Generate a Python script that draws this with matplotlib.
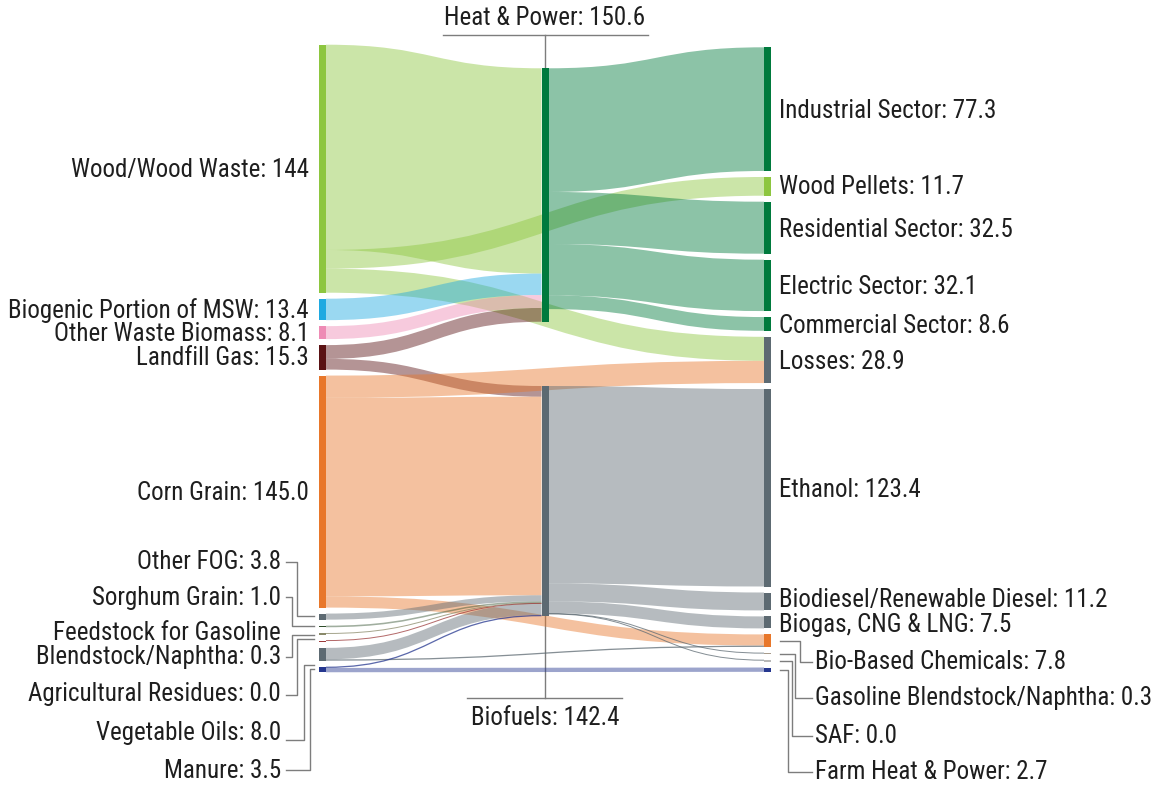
import matplotlib
matplotlib.use("Agg")
import matplotlib.pyplot as plt
from matplotlib.path import Path
from matplotlib.patches import PathPatch, Rectangle
from matplotlib import font_manager
from matplotlib.font_manager import FontProperties

# ---------------- data ----------------
node_names = [
    "Wood/Wood Waste", "Biogenic Portion of MSW", "Other Waste Biomass", "Landfill Gas",
    "Corn Grain", "Other FOG", "Sorghum Grain", "Feedstock for Gasoline\nBlendstock/Naphtha",
    "Agricultural Residues", "Vegetable Oils", "Manure",
    "Heat & Power", "Biofuels",
    "Industrial Sector", "Wood Pellets", "Residential Sector", "Electric Sector",
    "Commercial Sector", "Losses", "Ethanol", "Biodiesel/Renewable Diesel",
    "Biogas, CNG & LNG", "Bio-Based Chemicals", "Gasoline Blendstock/Naphtha", "SAF",
    "Farm Heat & Power",
]
node_totals = ["144", "13.4", "8.1", "15.3", "145.0", "3.8", "1.0", "0.3", "0.0", "8.0", "3.5",
               "150.6", "142.4",
               "77.3", "11.7", "32.5", "32.1", "8.6", "28.9", "123.4", "11.2", "7.5", "7.8",
               "0.3", "0.0", "2.7"]
node_column = [0] * 11 + [1] * 2 + [2] * 13
node_colors = [
    "#8dc63f", "#1fa9e1", "#ee8bb5", "#5a1214", "#e8772a", "#5d6a72", "#2e4d2a", "#8a8a6a",
    "#9c3a3a", "#5d6a72", "#25378f",
    "#007a3d", "#5d6a72",
    "#007a3d", "#8dc63f", "#007a3d", "#007a3d", "#007a3d", "#5d6a72", "#5d6a72", "#5d6a72",
    "#5d6a72", "#e8772a", "#a89c8c", "#b8b8b8", "#25378f",
]

link_source = [0, 0, 0, 1, 2, 3, 3, 4, 4, 4, 5, 6, 7, 8, 9, 9, 10, 10,
               11, 11, 11, 11, 12, 12, 12, 12, 12]
link_target = [11, 14, 18, 11, 11, 11, 12, 18, 12, 22, 12, 12, 12, 12, 12, 22, 12, 25,
               13, 15, 16, 17, 19, 20, 21, 23, 24]
link_value = [128.3, 11.7, 15.0, 13.4, 8.1, 8.6, 6.7, 13.9, 124.1, 7.0, 3.8, 1.0, 0.3, 0.0,
              7.2, 0.8, 0.8, 2.7,
              77.3, 32.5, 32.1, 8.6, 123.4, 11.2, 7.5, 0.3, 0.0]

# ---------------- layout constants ----------------
W, H = 1167, 786
K = 1.6            # px per unit
PAD = 6.0
NODE_W = 7.0
MIN_NODE = 1.3
col_x = [319.0, 541.5, 764.0]
col_top = {0: 44.7, 2: 47.3}
mid_top = {11: 68.3, 12: 386.0}
ALPHA = 0.45
TXT = "#1e1e1e"
LEAD = "#7d7d7d"


def pick_font():
    prefs = ["Liberation Sans Narrow", "Roboto Condensed", "Open Sans Condensed",
             "Noto Sans Condensed", "DejaVu Sans Condensed", "DejaVu Sans"]
    cands = []
    for f in font_manager.fontManager.ttflist:
        fn = f.fname.lower()
        cond = ("condensed" in str(f.stretch).lower() or "narrow" in f.name.lower()
                or "condensed" in fn or "narrow" in fn)
        if not cond:
            continue
        if f.style != "normal":
            continue
        if str(f.weight) not in ("400", "normal", "regular", "book"):
            continue
        if ("bold" in fn or "italic" in fn or "oblique" in fn or "light" in fn
                or "mono" in fn or ("serif" in fn and "sans" not in fn)):
            continue
        cands.append(f)

    def rank(f):
        key = f.name + (" Condensed" if "condensed" in f.fname.lower() and "Condensed" not in f.name else "")
        key = key + (" Narrow" if "narrow" in f.fname.lower() and "Narrow" not in key else "")
        for j, p in enumerate(prefs):
            if p.lower() in key.lower():
                return j
        return len(prefs)
    if cands:
        cands.sort(key=rank)
        return FontProperties(fname=cands[0].fname)
    return FontProperties(family="DejaVu Sans")


FP = pick_font()

n = len(node_names)
inflow = [0.0] * n
outflow = [0.0] * n
for s, t, v in zip(link_source, link_target, link_value):
    outflow[s] += v
    inflow[t] += v
node_h = [max(K * max(inflow[i], outflow[i]), MIN_NODE) for i in range(n)]

node_y = [0.0] * n
for c in (0, 2):
    y = col_top[c]
    for i in range(n):
        if node_column[i] == c:
            node_y[i] = y
            y += node_h[i] + PAD
for i, y in mid_top.items():
    node_y[i] = y

fig = plt.figure(figsize=(W / 100, H / 100), dpi=100)
ax = fig.add_axes([0, 0, 1, 1])
ax.set_xlim(0, W)
ax.set_ylim(H, 0)
ax.axis("off")

# calibrate font size so that text widths match the reference
renderer = fig.canvas.get_renderer()
probe = ax.text(0, 0, "Wood/Wood Waste: 144", fontproperties=FP.copy())
probe.set_fontsize(20)
wpx = probe.get_window_extent(renderer).width
probe.remove()
FS = min(20 * 238.0 / wpx, 19.5)
fp = FP.copy()
fp.set_size(FS)

# link offsets
links = list(range(len(link_value)))
src_off = {}
tgt_off = {}
for i in range(n):
    outs = sorted([l for l in links if link_source[l] == i], key=lambda l: node_y[link_target[l]])
    y = node_y[i]
    for l in outs:
        src_off[l] = y
        y += link_value[l] * K
    ins = sorted([l for l in links if link_target[l] == i], key=lambda l: node_y[link_source[l]])
    y = node_y[i]
    for l in ins:
        tgt_off[l] = y
        y += link_value[l] * K

for l in links:
    s, t, v = link_source[l], link_target[l], link_value[l]
    x0 = col_x[node_column[s]] + NODE_W
    x1 = col_x[node_column[t]]
    xm = (x0 + x1) / 2
    y0, y1 = src_off[l], tgt_off[l]
    w = v * K
    col = node_colors[s]
    if w < 1.6:
        c0, c1 = y0 + w / 2, y1 + w / 2
        p = Path([(x0, c0), (xm, c0), (xm, c1), (x1, c1)],
                 [Path.MOVETO, Path.CURVE4, Path.CURVE4, Path.CURVE4])
        ax.add_patch(PathPatch(p, fill=False, edgecolor=col, lw=max(w, 1.0) * 0.72,
                               alpha=0.75, zorder=2))
    else:
        verts = [(x0, y0), (xm, y0), (xm, y1), (x1, y1), (x1, y1 + w), (xm, y1 + w),
                 (xm, y0 + w), (x0, y0 + w), (x0, y0)]
        codes = [Path.MOVETO, Path.CURVE4, Path.CURVE4, Path.CURVE4, Path.LINETO,
                 Path.CURVE4, Path.CURVE4, Path.CURVE4, Path.CLOSEPOLY]
        ax.add_patch(PathPatch(Path(verts, codes), facecolor=col, edgecolor="none",
                               alpha=ALPHA, zorder=1))

for i in range(n):
    ax.add_patch(Rectangle((col_x[node_column[i]], node_y[i]), NODE_W, node_h[i],
                           facecolor=node_colors[i], edgecolor="none", zorder=3))


def label(i):
    return f"{node_names[i]}: {node_totals[i]}"


def cy(i):
    return node_y[i] + node_h[i] / 2


def put(x, y, s, ha):
    ax.text(x, y, s, ha=ha, va="center", fontproperties=fp, color=TXT, linespacing=1.0)


# ---------------- labels ----------------
for i in [0, 1, 2, 3, 4]:
    put(309, cy(i) + 1, label(i), "right")

left_small = [5, 6, 7, 8, 9, 10]
left_small_y = [562, 598, 645, 694, 733, 771]
left_lead_y = [562, 597, 657, 695, 740, 770]
left_lead_x = [297, 292, 292, 297, 304, 310]
left_lead_end = [616, 626, 635, 639, 665, 669]
for i, ty, ly, vx, ey in zip(left_small, left_small_y, left_lead_y, left_lead_x, left_lead_end):
    put(281, ty, label(i), "right")
    ax.plot([286, vx, vx, 314], [ly, ly, ey, ey], color=LEAD, lw=1.0, zorder=4)

right_direct = [13, 14, 15, 16, 17, 18, 19, 20, 21]
right_dy = [2, 1, 2, 2, 2, 2, 2, -1, 3]
for i, dy in zip(right_direct, right_dy):
    put(779, cy(i) + dy, label(i), "left")

right_small = [22, 23, 24, 25]
right_small_y = [662, 698, 736, 772]
right_lead_x = [800, 795, 792, 788]
for i, ty, vx in zip(right_small, right_small_y, right_lead_x):
    sy = cy(i)
    put(815, ty, label(i), "left")
    ax.plot([780, vx, vx, 812], [sy, sy, ty, ty], color=LEAD, lw=1.0, zorder=4)

# middle labels
mx = col_x[1] + NODE_W / 2
put(mx, 18, label(11), "center")
ax.plot([443, 648], [35, 35], color=LEAD, lw=1.0)
ax.plot([mx, mx], [35, node_y[11]], color=LEAD, lw=1.0, zorder=0.5)
bb = node_y[12] + node_h[12]
ax.plot([mx, mx], [bb, 698], color=LEAD, lw=1.0, zorder=0.5)
ax.plot([467, 622], [698, 698], color=LEAD, lw=1.0)
put(mx, 718, label(12), "center")

fig.savefig("out.png", dpi=100, facecolor="white")
